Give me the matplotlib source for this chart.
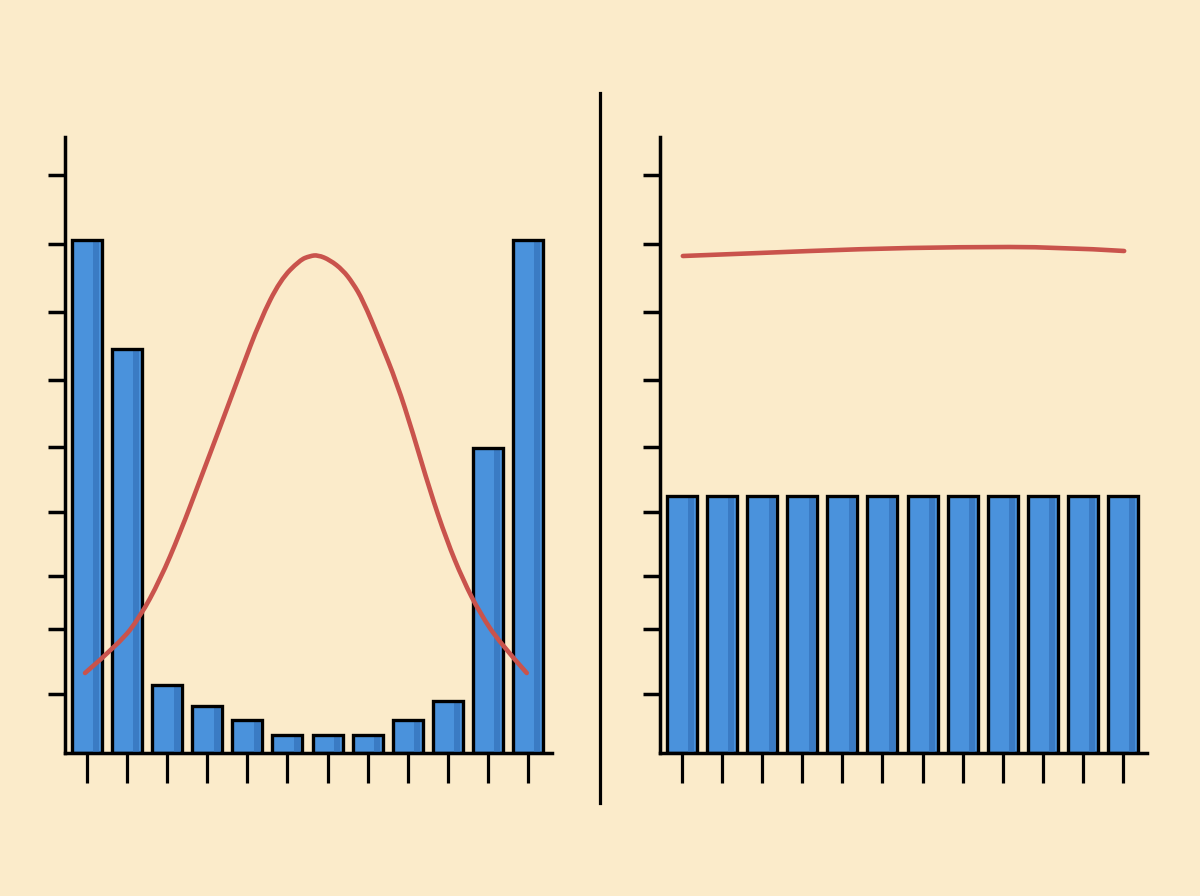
import matplotlib
matplotlib.use('Agg')
import matplotlib.pyplot as plt
from matplotlib.lines import Line2D
from matplotlib.path import Path
from matplotlib.patches import PathPatch

# bar heights (arbitrary units), 12 bins per panel
left_heights = [51.3, 40.4, 6.8, 4.7, 3.3, 1.8, 1.8, 1.8, 3.3, 5.2, 30.5, 51.3]
right_heights = [25.7] * 12

# red curve (x in bin units, y in bar units)
left_curve_x = [-0.05, 0.82, 1.32, 1.82, 2.32, 2.82, 3.32, 3.82, 4.32, 4.82,
                5.31, 5.56, 5.76, 6.06, 6.38, 6.63, 6.88, 7.30, 7.73, 8.13,
                8.55, 8.97, 9.38, 9.80, 10.30, 10.97]
left_curve_y = [8.0, 11.0, 13.6, 17.3, 22.0, 27.3, 32.6, 38.0, 43.3, 47.3,
                49.3, 49.7, 49.8, 49.3, 48.3, 47.0, 45.3, 41.3, 37.0, 32.0,
                26.3, 21.3, 17.3, 14.0, 11.0, 8.0]
right_curve_x = [0.02, 1.94, 4.43, 6.92, 9.41, 11.03]
right_curve_y = [49.7, 50.0, 50.4, 50.6, 50.6, 50.2]

y_ticks = [57.8, 50.9, 44.1, 37.3, 30.6, 24.1, 17.7, 12.4, 5.9]

BG = '#FBEBCA'
BAR = '#4A92DC'
BAR_DARK = '#3A7BC4'
RED = '#C9534C'


def smooth_path(xs, ys):
    # quadratic bezier through midpoints, keeps the line smooth
    verts = [(xs[0], ys[0])]
    codes = [Path.MOVETO]
    for i in range(1, len(xs) - 1):
        mx = (xs[i] + xs[i + 1]) / 2
        my = (ys[i] + ys[i + 1]) / 2
        if i == len(xs) - 2:
            mx, my = xs[-1], ys[-1]
        verts += [(xs[i], ys[i]), (mx, my)]
        codes += [Path.CURVE3, Path.CURVE3]
    return Path(verts, codes)


def draw_panel(ax, heights, cx, cy):
    x = list(range(len(heights)))
    w = 0.75
    ax.bar(x, heights, width=w, color=BAR, edgecolor='none', zorder=2)
    # darker strip on the right side of each bar
    ax.bar([i + w * 0.31 for i in x], heights, width=w * 0.2,
           color=BAR_DARK, edgecolor='none', zorder=3)
    ax.bar(x, heights, width=w, color='none', edgecolor='black',
           linewidth=2.4, zorder=4)
    ax.add_patch(PathPatch(smooth_path(cx, cy), fill=False, edgecolor=RED,
                           lw=3.3, capstyle='round', zorder=5))

    ax.set_xlim(-0.55, 11.6)
    ax.set_ylim(0, 61.6)
    ax.set_xticks(x)
    ax.set_yticks(y_ticks)
    ax.set_xticklabels([])
    ax.set_yticklabels([])
    ax.tick_params(axis='x', direction='out', length=21.5, width=2.3)
    ax.tick_params(axis='y', direction='out', length=12, width=2.5)
    for s in ('top', 'right'):
        ax.spines[s].set_visible(False)
    for s in ('left', 'bottom'):
        ax.spines[s].set_linewidth(2.5)
    ax.set_facecolor('none')


fig = plt.figure(figsize=(12, 8.96), dpi=100)
fig.patch.set_facecolor(BG)

ax1 = fig.add_axes([65 / 1200, 143 / 896, 487 / 1200, 616 / 896])
ax2 = fig.add_axes([660 / 1200, 143 / 896, 487 / 1200, 616 / 896])

draw_panel(ax1, left_heights, left_curve_x, left_curve_y)
draw_panel(ax2, right_heights, right_curve_x, right_curve_y)

# divider between the panels
fig.add_artist(Line2D([600 / 1200, 600 / 1200], [93 / 896, 803 / 896],
                      color='black', lw=2.3, transform=fig.transFigure))

fig.savefig('out.png', dpi=100, facecolor=BG)
